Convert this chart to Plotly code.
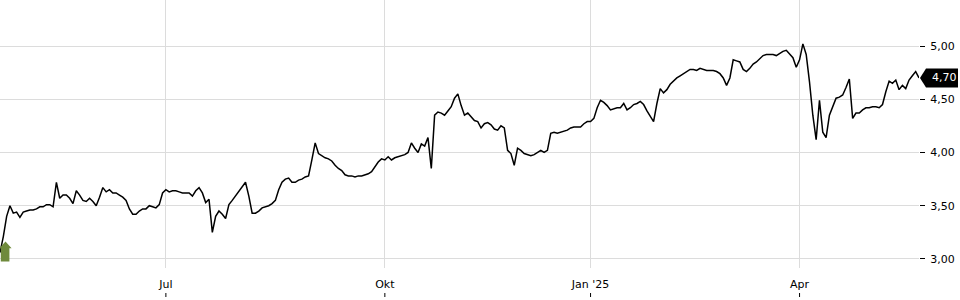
import pandas as pd
import plotly.graph_objects as go

# ---- data -------------------------------------------------------------
HOLIDAYS = ["2024-05-01", "2024-12-24", "2024-12-25", "2024-12-26", "2024-12-31",
            "2025-01-01", "2025-04-18", "2025-04-21", "2025-05-01"]
START_DATE = "2024-04-19"
END_DATE = "2025-05-26"

PRICES = [
    3.06, 3.21, 3.40, 3.50, 3.43, 3.44, 3.39, 3.44, 3.45, 3.46,
    3.46, 3.47, 3.49, 3.49, 3.51, 3.51, 3.49, 3.72, 3.57, 3.60,
    3.60, 3.57, 3.52, 3.64, 3.60, 3.55, 3.54, 3.57, 3.54, 3.50,
    3.58, 3.67, 3.63, 3.65, 3.62, 3.62, 3.60, 3.58, 3.55, 3.47,
    3.42, 3.42, 3.45, 3.47, 3.47, 3.50, 3.49, 3.48, 3.51, 3.62,
    3.65, 3.63, 3.64, 3.64, 3.63, 3.62, 3.62, 3.62, 3.59, 3.64,
    3.67, 3.62, 3.53, 3.56, 3.25, 3.40, 3.45, 3.42, 3.38, 3.51,
    3.55, 3.59, 3.63, 3.67, 3.72, 3.59, 3.43, 3.43, 3.45, 3.48,
    3.49, 3.50, 3.52, 3.55, 3.65, 3.72, 3.75, 3.76, 3.72, 3.72,
    3.74, 3.75, 3.77, 3.78, 3.93, 4.09, 3.99, 3.97, 3.95, 3.94,
    3.92, 3.88, 3.85, 3.83, 3.79, 3.78, 3.78, 3.77, 3.78, 3.78,
    3.79, 3.80, 3.82, 3.87, 3.91, 3.94, 3.93, 3.96, 3.93, 3.95,
    3.96, 3.97, 3.98, 4.00, 4.09, 4.04, 4.00, 4.08, 4.06, 4.14,
    3.85, 4.35, 4.38, 4.37, 4.35, 4.39, 4.43, 4.51, 4.55, 4.44,
    4.35, 4.37, 4.33, 4.30, 4.29, 4.23, 4.27, 4.28, 4.26, 4.22,
    4.21, 4.25, 4.23, 4.02, 3.99, 3.88, 4.04, 4.02, 3.99, 3.98,
    3.97, 3.98, 4.00, 4.02, 4.00, 4.02, 4.18, 4.19, 4.18, 4.19,
    4.20, 4.21, 4.23, 4.24, 4.24, 4.24, 4.27, 4.29, 4.29, 4.32,
    4.42, 4.49, 4.47, 4.44, 4.40, 4.41, 4.42, 4.42, 4.46, 4.40,
    4.42, 4.45, 4.46, 4.48, 4.45, 4.39, 4.34, 4.29, 4.46, 4.60,
    4.56, 4.59, 4.64, 4.67, 4.70, 4.72, 4.74, 4.76, 4.78, 4.78,
    4.77, 4.79, 4.78, 4.77, 4.77, 4.77, 4.76, 4.74, 4.70, 4.63,
    4.70, 4.87, 4.86, 4.85, 4.78, 4.76, 4.79, 4.83, 4.85, 4.88,
    4.91, 4.92, 4.92, 4.92, 4.91, 4.93, 4.95, 4.96, 4.92, 4.89,
    4.80, 4.87, 5.02, 4.92, 4.66, 4.35, 4.12, 4.49, 4.19, 4.14,
    4.35, 4.44, 4.51, 4.52, 4.54, 4.61, 4.69, 4.32, 4.37, 4.37,
    4.40, 4.42, 4.42, 4.43, 4.43, 4.42, 4.45, 4.57, 4.67, 4.65,
    4.68, 4.59, 4.63, 4.60, 4.68, 4.72, 4.76, 4.70,
]

TICK_DATES = ["2024-07-01", "2024-10-01", "2025-01-02", "2025-04-01"]
TICK_TEXT = ["Jul", "Okt", "Jan '25", "Apr"]
Y_TICKS = [3.0, 3.5, 4.0, 4.5, 5.0]
Y_RANGE = [2.915, 5.432]

# ---- build ------------------------------------------------------------
dates = pd.bdate_range(START_DATE, END_DATE, freq="C", holidays=HOLIDAYS)
n = min(len(dates), len(PRICES))
dates = dates[:n]
prices = PRICES[:n]

FONT = "DejaVu Sans"
W, H = 960, 300
M_L, M_R, M_T, M_B = 0, 41, 0, 32
PLOT_H = H - M_T - M_B

fig = go.Figure()
fig.add_trace(go.Scatter(
    x=dates, y=prices, mode="lines",
    line=dict(color="#000000", width=1.5),
    hoverinfo="skip", showlegend=False,
))

shapes = []
# small tick marks below the x labels
for d in TICK_DATES:
    shapes.append(dict(type="line", xref="x", yref="paper",
                       x0=d, x1=d, y0=-25 / PLOT_H, y1=-29 / PLOT_H,
                       line=dict(color="#000000", width=1)))

# buy arrow at the first point
shapes.append(dict(
    type="path", xref="x", yref="y",
    xsizemode="pixel", ysizemode="pixel",
    xanchor=dates[0], yanchor=prices[0],
    path="M5.5,11 L-0.6,4.3 L0.8,4.3 L0.8,-9 L9.4,-9 L9.4,4.3 L11.6,4.3 Z",
    fillcolor="#6f8a3c", line=dict(width=0), layer="above",
))

# last price marker box
last = prices[-1]
shapes.append(dict(
    type="path", xref="paper", yref="y",
    xsizemode="pixel", ysizemode="pixel",
    xanchor=1, yanchor=last,
    path="M1,0 L7,9.5 L39,9.5 L39,-9.5 L7,-9.5 Z",
    fillcolor="#000000", line=dict(width=0), layer="above",
))

annotations = [dict(
    x=1, xref="paper", y=last, yref="y", xanchor="left", yanchor="middle",
    xshift=11, text=f"{last:.2f}".replace(".", ","), showarrow=False,
    font=dict(family=FONT, size=11, color="#ffffff"),
)]

fig.update_layout(
    width=W, height=H,
    margin=dict(l=M_L, r=M_R, t=M_T, b=M_B, pad=0),
    paper_bgcolor="#ffffff", plot_bgcolor="#ffffff",
    separators=",.",
    font=dict(family=FONT, size=11, color="#000000"),
    shapes=shapes, annotations=annotations,
    showlegend=False,
    xaxis=dict(
        type="date",
        range=[dates[0], dates[-1]],
        rangebreaks=[dict(bounds=["sat", "mon"]), dict(values=HOLIDAYS)],
        tickmode="array", tickvals=TICK_DATES, ticktext=TICK_TEXT,
        ticks="", showgrid=True, gridcolor="#dcdcdc", gridwidth=1,
        zeroline=False, showline=False,
        tickfont=dict(family=FONT, size=11, color="#000000"),
        ticklabelstandoff=8,
        fixedrange=True,
    ),
    yaxis=dict(
        side="right", range=Y_RANGE,
        tickmode="array", tickvals=Y_TICKS, tickformat=".2f",
        ticks="outside", ticklen=5, tickwidth=1, tickcolor="#000000",
        showgrid=True, gridcolor="#dcdcdc", gridwidth=1,
        zeroline=False, showline=False,
        tickfont=dict(family=FONT, size=11, color="#000000"),
        ticklabelstandoff=3,
        fixedrange=True,
    ),
)

fig.write_html("out.html", config=dict(displayModeBar=False, staticPlot=True))
